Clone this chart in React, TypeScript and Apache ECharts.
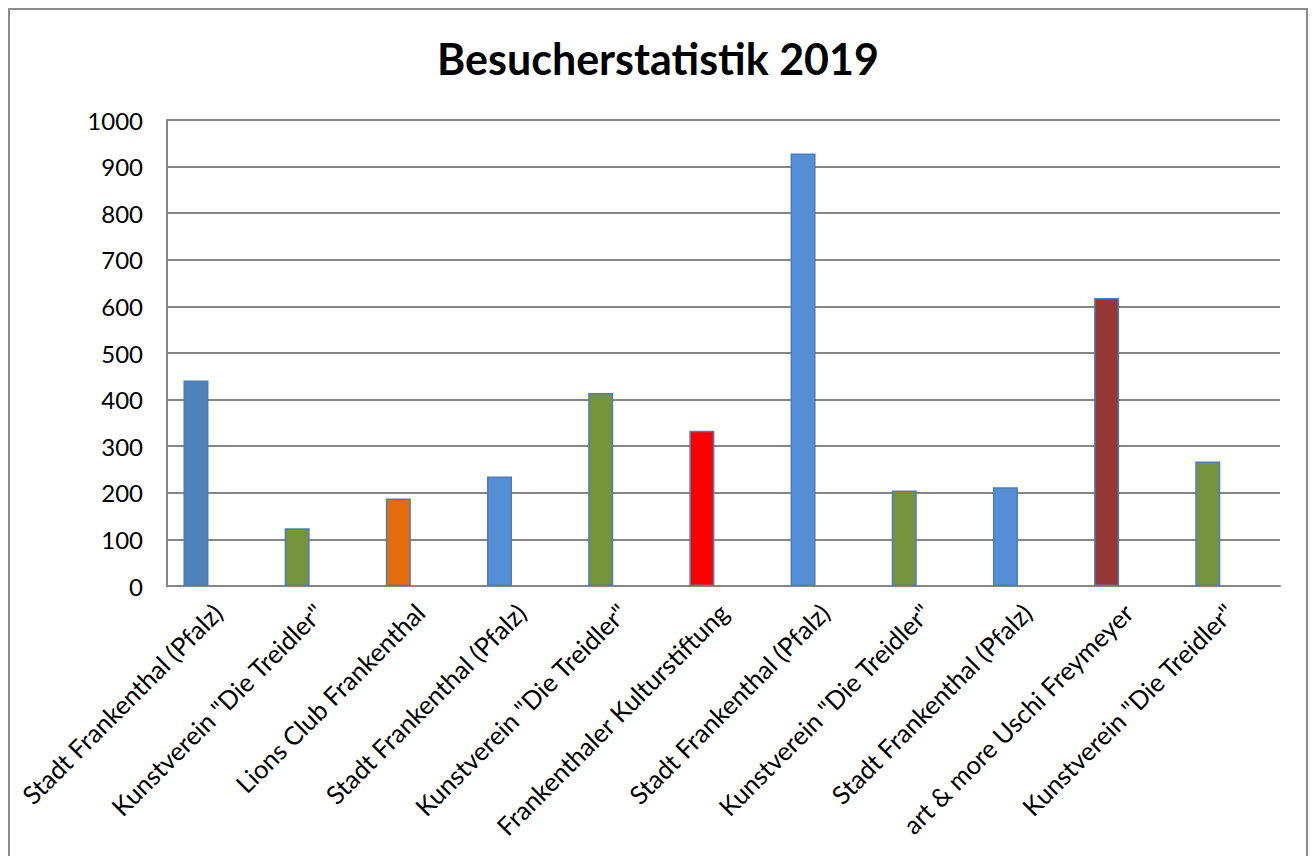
import React, { useEffect, useRef } from "react";
import * as echarts from "echarts";

const categories = [
  "Stadt Frankenthal (Pfalz)",
  'Kunstverein "Die Treidler"',
  "Lions Club Frankenthal",
  "Stadt Frankenthal (Pfalz)",
  'Kunstverein "Die Treidler"',
  "Frankenthaler Kulturstiftung",
  "Stadt Frankenthal (Pfalz)",
  'Kunstverein "Die Treidler"',
  "Stadt Frankenthal (Pfalz)",
  "art & more Uschi Freymeyer",
  'Kunstverein "Die Treidler"',
];
const visitors = [441, 124, 188, 235, 414, 333, 928, 205, 212, 618, 267];
const emptySeries: number[] = [];
const barColors = [
  "#4F81BD",
  "#77933C",
  "#E46C0A",
  "#558ED5",
  "#77933C",
  "#FF0000",
  "#558ED5",
  "#77933C",
  "#558ED5",
  "#953735",
  "#77933C",
];
const yTicks = { min: 0, max: 1000, interval: 100 };
const titleText = "Besucherstatistik 2019";

export default function App() {
  const ref = useRef<HTMLDivElement>(null);
  useEffect(() => {
    if (!ref.current) return;
    const chart = echarts.init(ref.current, null, { renderer: "svg" });
    const font = "Lato, 'Open Sans', sans-serif";
    chart.setOption({
      animation: false,
      backgroundColor: "#ffffff",
      title: {
        text: titleText,
        left: "center",
        top: 22,
        textStyle: { fontFamily: font, fontSize: 43, fontWeight: "bold", color: "#000" },
      },
      grid: { left: 157, top: 110, width: 1113, height: 466 },
      xAxis: {
        type: "category",
        data: categories,
        axisLine: { lineStyle: { color: "#868686", width: 2 } },
        axisTick: { show: false },
        axisLabel: {
          rotate: 45,
          interval: 0,
          margin: 22,
          fontFamily: font,
          fontSize: 25.5,
          color: "#000",
        },
      },
      yAxis: {
        type: "value",
        min: yTicks.min,
        max: yTicks.max,
        interval: yTicks.interval,
        axisLine: { show: true, lineStyle: { color: "#868686", width: 2 } },
        axisTick: { show: false },
        splitLine: { lineStyle: { color: "#868686", width: 2 } },
        axisLabel: {
          margin: 24,
          fontFamily: font,
          fontSize: 24,
          color: "#000",
          formatter: (v: number) => String(v),
        },
      },
      series: [
        {
          type: "bar",
          name: "Besucher",
          barWidth: 25,
          barGap: "73%",
          data: visitors.map((v, i) => ({
            value: v,
            itemStyle: { color: barColors[i], borderColor: "#4A7EBB", borderWidth: 1.5 },
          })),
        },
        {
          type: "bar",
          name: "leer",
          barWidth: 25,
          barGap: "73%",
          data: emptySeries,
        },
      ],
    });
    return () => chart.dispose();
  }, []);
  return (
    <div
      style={{
        position: "fixed",
        left: 8,
        top: 8,
        width: 1300,
        height: 860,
        boxSizing: "border-box",
        borderTop: "2px solid #8c8c8c",
        borderLeft: "2px solid #8c8c8c",
        borderRight: "2px solid #8c8c8c",
        background: "#fff",
      }}
    >
      <div ref={ref} style={{ position: "absolute", left: 0, top: 0, width: 1296, height: 858 }} />
    </div>
  );
}
